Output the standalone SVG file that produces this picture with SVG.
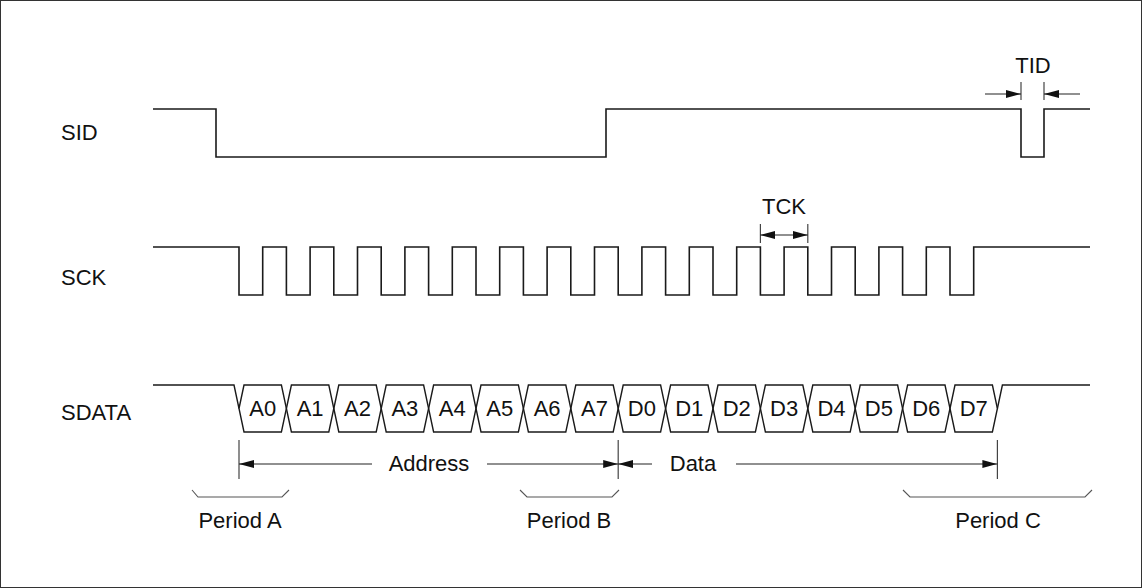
<svg xmlns="http://www.w3.org/2000/svg" width="1142" height="588" viewBox="0 0 1142 588">
  <style>
    .wave { fill: none; stroke: #1a1a1a; stroke-width: 1.6; }
    .bus { fill: none; stroke: #1a1a1a; stroke-width: 1.4; stroke-linejoin: miter; }
    .dim { fill: none; stroke: #222; stroke-width: 1.2; }
    .ext { fill: none; stroke: #444; stroke-width: 1.2; }
    .brace { fill: none; stroke: #555; stroke-width: 1.1; }
    text { font-family: "Liberation Sans", Arial, sans-serif; font-size: 22px; fill: #111; }
    .lbl { text-anchor: start; }
    .mid { text-anchor: middle; }
  </style>
  <defs>
    <marker id="arrow" markerWidth="15" markerHeight="8" refX="15" refY="4" orient="auto-start-reverse" markerUnits="userSpaceOnUse">
      <path d="M0,0 L15,4 L0,8 Z" fill="#111"/>
    </marker>
  </defs>

  <!-- outer frame -->
  <rect x="0.5" y="0.5" width="1141" height="587" fill="#fff" stroke="#333" stroke-width="1"/>

  <!-- signal names -->
  <g id="labels">
    <text class="lbl" x="61" y="140">SID</text>
    <text class="lbl" x="61" y="285">SCK</text>
    <text class="lbl" x="61" y="420">SDATA</text>
  </g>

  <!-- chip select line -->
  <g id="sid">
    <path class="wave" d="M153 109 H216 V157 H606 V109 H1021 V157 H1044 V109 H1090"/>
  </g>

  <!-- serial clock: 16 cycles, period 47.4 -->
  <g id="sck">
    <path class="wave" d="M153 247 H239 V295 H262.7 V247
      H286.4 V295 H310.1 V247
      H333.8 V295 H357.5 V247
      H381.2 V295 H404.9 V247
      H428.6 V295 H452.3 V247
      H476 V295 H499.7 V247
      H523.4 V295 H547.1 V247
      H570.8 V295 H594.5 V247
      H618.2 V295 H641.9 V247
      H665.6 V295 H689.3 V247
      H713 V295 H736.7 V247
      H760.4 V295 H784.1 V247
      H807.8 V295 H831.5 V247
      H855.2 V295 H878.9 V247
      H902.6 V295 H926.3 V247
      H950 V295 H973.7 V247
      H1090"/>
  </g>

  <!-- serial data bus -->
  <g id="sdata">
    <path class="bus" d="M153 385 H234 L239 408.5"/>
    <path class="bus" d="M997.4 408.5 L1002.4 385 H1090"/>
    <polygon class="bus" points="239,408.5 244,385 281.4,385 286.4,408.5 281.4,432 244,432"/>
    <polygon class="bus" points="286.4,408.5 291.4,385 328.8,385 333.8,408.5 328.8,432 291.4,432"/>
    <polygon class="bus" points="333.8,408.5 338.8,385 376.2,385 381.2,408.5 376.2,432 338.8,432"/>
    <polygon class="bus" points="381.2,408.5 386.2,385 423.6,385 428.6,408.5 423.6,432 386.2,432"/>
    <polygon class="bus" points="428.6,408.5 433.6,385 471,385 476,408.5 471,432 433.6,432"/>
    <polygon class="bus" points="476,408.5 481,385 518.4,385 523.4,408.5 518.4,432 481,432"/>
    <polygon class="bus" points="523.4,408.5 528.4,385 565.8,385 570.8,408.5 565.8,432 528.4,432"/>
    <polygon class="bus" points="570.8,408.5 575.8,385 613.2,385 618.2,408.5 613.2,432 575.8,432"/>
    <polygon class="bus" points="618.2,408.5 623.2,385 660.6,385 665.6,408.5 660.6,432 623.2,432"/>
    <polygon class="bus" points="665.6,408.5 670.6,385 708,385 713,408.5 708,432 670.6,432"/>
    <polygon class="bus" points="713,408.5 718,385 755.4,385 760.4,408.5 755.4,432 718,432"/>
    <polygon class="bus" points="760.4,408.5 765.4,385 802.8,385 807.8,408.5 802.8,432 765.4,432"/>
    <polygon class="bus" points="807.8,408.5 812.8,385 850.2,385 855.2,408.5 850.2,432 812.8,432"/>
    <polygon class="bus" points="855.2,408.5 860.2,385 897.6,385 902.6,408.5 897.6,432 860.2,432"/>
    <polygon class="bus" points="902.6,408.5 907.6,385 945,385 950,408.5 945,432 907.6,432"/>
    <polygon class="bus" points="950,408.5 955,385 992.4,385 997.4,408.5 992.4,432 955,432"/>
    <g>
      <text class="mid" x="262.7" y="416">A0</text>
      <text class="mid" x="310.1" y="416">A1</text>
      <text class="mid" x="357.5" y="416">A2</text>
      <text class="mid" x="404.9" y="416">A3</text>
      <text class="mid" x="452.3" y="416">A4</text>
      <text class="mid" x="499.7" y="416">A5</text>
      <text class="mid" x="547.1" y="416">A6</text>
      <text class="mid" x="594.5" y="416">A7</text>
      <text class="mid" x="641.9" y="416">D0</text>
      <text class="mid" x="689.3" y="416">D1</text>
      <text class="mid" x="736.7" y="416">D2</text>
      <text class="mid" x="784.1" y="416">D3</text>
      <text class="mid" x="831.5" y="416">D4</text>
      <text class="mid" x="878.9" y="416">D5</text>
      <text class="mid" x="926.3" y="416">D6</text>
      <text class="mid" x="973.7" y="416">D7</text>
    </g>
  </g>

  <!-- timing dimensions -->
  <g id="tid">
    <line class="ext" x1="1021" y1="82" x2="1021" y2="100"/>
    <line class="ext" x1="1044" y1="82" x2="1044" y2="100"/>
    <line class="dim" x1="985" y1="94" x2="1021" y2="94" marker-end="url(#arrow)"/>
    <line class="dim" x1="1080" y1="94" x2="1044" y2="94" marker-end="url(#arrow)"/>
    <text class="mid" x="1033" y="73">TID</text>
  </g>

  <g id="tck">
    <line class="ext" x1="760.4" y1="224" x2="760.4" y2="243"/>
    <line class="ext" x1="807.8" y1="224" x2="807.8" y2="243"/>
    <line class="dim" x1="760.4" y1="235" x2="807.8" y2="235" marker-start="url(#arrow)" marker-end="url(#arrow)"/>
    <text class="mid" x="784" y="214">TCK</text>
  </g>

  <g id="address">
    <line class="ext" x1="239" y1="440" x2="239" y2="479"/>
    <line class="ext" x1="618.2" y1="440" x2="618.2" y2="479"/>
    <line class="dim" x1="239" y1="464" x2="372" y2="464" marker-start="url(#arrow)"/>
    <line class="dim" x1="487" y1="464" x2="618.2" y2="464" marker-end="url(#arrow)"/>
    <text class="mid" x="429" y="471">Address</text>
  </g>

  <g id="data">
    <line class="ext" x1="997.4" y1="440" x2="997.4" y2="479"/>
    <line class="dim" x1="618.2" y1="464" x2="652" y2="464" marker-start="url(#arrow)"/>
    <line class="dim" x1="736" y1="464" x2="997.4" y2="464" marker-end="url(#arrow)"/>
    <text class="mid" x="693" y="471">Data</text>
  </g>

  <!-- sampling periods -->
  <g id="period-a">
    <path class="brace" d="M192 490 L198 497 H282 L289 490"/>
    <text class="mid" x="240" y="528">Period A</text>
  </g>
  <g id="period-b">
    <path class="brace" d="M520 490 L527 497 H612 L619 490"/>
    <text class="mid" x="569" y="528">Period B</text>
  </g>
  <g id="period-c">
    <path class="brace" d="M903 490 L910 497 H1085 L1092 490"/>
    <text class="mid" x="998" y="528">Period C</text>
  </g>
</svg>
